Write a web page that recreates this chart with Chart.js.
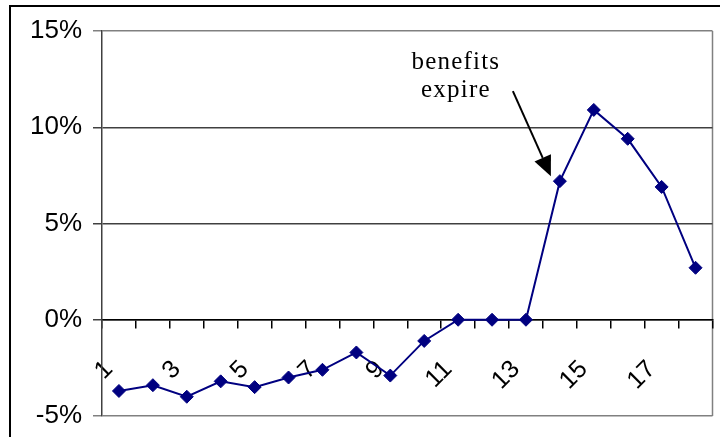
<!DOCTYPE html>
<html>
<head>
<meta charset="utf-8">
<script src="https://cdn.jsdelivr.net/npm/chart.js@4.4.1/dist/chart.umd.min.js"></script>
<style>
  html, body { margin: 0; padding: 0; background: #fff; }
  #wrap { width: 720px; height: 437px; position: relative; }
</style>
</head>
<body>
<div id="wrap"><canvas id="chart"></canvas></div>
<script>
// values (percent change)
const periods = ['1','2','3','4','5','6','7','8','9','10','11','12','13','14','15','16','17','18'];
const changeRates = [-3.7, -3.4, -4.0, -3.2, -3.5, -3.0, -2.6, -1.7, -2.9, -1.1, 0, 0, 0, 7.2, 10.9, 9.4, 6.9, 2.7];
const yTickValues = [-5, 0, 5, 10, 15];
const noteLines = ['benefits', 'expire'];
const notePointIndex = 13;

const frame = {
    id: 'frame',
    beforeDraw(chart) {
        const c = chart.ctx;
        const a = chart.chartArea;
        c.save();
        c.strokeStyle = '#000';
        c.lineWidth = 2;
        c.strokeRect(10, 6, 720, 460);
        c.strokeStyle = '#808080';
        c.lineWidth = 1.5;
        c.beginPath();
        c.moveTo(a.right, a.top);
        c.lineTo(a.right, a.bottom);
        c.stroke();
        c.restore();
    }
};

const note = {
    id: 'note',
    afterDraw(chart) {
        const pt = chart.getDatasetMeta(0).data[notePointIndex];
        if (!pt) return;
        const c = chart.ctx;
        c.save();
        c.fillStyle = '#000';
        c.font = '25px "Liberation Serif", "DejaVu Serif", serif';
        c.letterSpacing = '1.2px';
        c.textAlign = 'center';
        c.textBaseline = 'alphabetic';
        c.fillText(noteLines[0], pt.x - 104, pt.y - 112);
        c.fillText(noteLines[1], pt.x - 104, pt.y - 84);

        // arrow
        const sx = pt.x - 47, sy = pt.y - 90;
        const tx = pt.x - 9, ty = pt.y - 5;
        const ang = Math.atan2(ty - sy, tx - sx);
        const len = 20, half = 9;
        const bx = tx - Math.cos(ang) * len, by = ty - Math.sin(ang) * len;
        c.strokeStyle = '#000';
        c.lineWidth = 2;
        c.beginPath();
        c.moveTo(sx, sy);
        c.lineTo(bx, by);
        c.stroke();
        c.beginPath();
        c.moveTo(tx, ty);
        c.lineTo(bx + Math.sin(ang) * half, by - Math.cos(ang) * half);
        c.lineTo(bx - Math.sin(ang) * half, by + Math.cos(ang) * half);
        c.closePath();
        c.fill();
        c.restore();
    }
};

function gridColor(ctx) {
    const v = ctx.tick && ctx.tick.value;
    return (v === 15 || v === -5) ? '#808080' : '#404040';
}

function noPad(s) {
    s.paddingLeft = 0;
    s.paddingRight = 0;
    s.paddingTop = 0;
    s.paddingBottom = 0;
}

new Chart(document.getElementById('chart'), {
    type: 'line',
    data: {
        labels: periods,
        datasets: [{
            data: changeRates,
            borderColor: '#000080',
            backgroundColor: '#000080',
            borderWidth: 2,
            tension: 0,
            pointStyle: 'rectRot',
            pointRadius: 6.5,
            pointHoverRadius: 6.5,
            pointBorderWidth: 1
        }]
    },
    options: {
        responsive: true,
        maintainAspectRatio: false,
        animation: false,
        events: [],
        layout: { padding: { left: 10, top: 31, right: 5, bottom: 21 } },
        plugins: { legend: { display: false }, tooltip: { enabled: false } },
        scales: {
            x: {
                position: { y: 0 },
                offset: true,
                afterFit: noPad,
                grid: { drawOnChartArea: false, drawTicks: true, tickLength: 8, offset: true, color: '#000', lineWidth: 1.5 },
                border: { display: true, color: '#000', width: 1.5 },
                ticks: {
                    autoSkip: false,
                    minRotation: 45,
                    maxRotation: 45,
                    padding: 27,
                    labelOffset: -10,
                    color: '#000',
                    font: { family: '"Liberation Sans", Arial, sans-serif', size: 25 },
                    callback: function (val, i) { return i % 2 === 0 ? this.getLabelForValue(val) : ''; }
                }
            },
            y: {
                min: -5,
                max: 15,
                afterBuildTicks: (s) => { s.ticks = yTickValues.map(v => ({ value: v })); },
                afterFit: (s) => { s.width = 92; noPad(s); },
                grid: { color: gridColor, lineWidth: 1.5, tickLength: 9 },
                border: { display: true, color: '#404040', width: 1.5 },
                ticks: {
                    padding: 11,
                    color: '#000',
                    font: { family: '"Liberation Sans", Arial, sans-serif', size: 26 },
                    callback: (v) => v + '%'
                }
            }
        }
    },
    plugins: [frame, note]
});
</script>
</body>
</html>
